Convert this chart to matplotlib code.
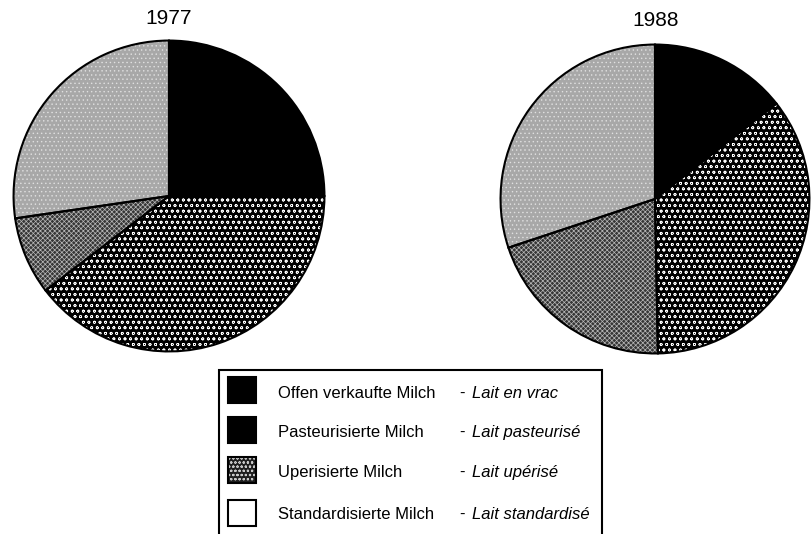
import matplotlib.pyplot as plt
from matplotlib.patches import Rectangle

plt.rcParams['font.family'] = ['Liberation Sans', 'DejaVu Sans']
plt.rcParams['hatch.linewidth'] = 0.5

# data (shares in %)
years = ["1977", "1988"]
labels_de = ["Offen verkaufte Milch", "Pasteurisierte Milch",
             "Uperisierte Milch", "Standardisierte Milch"]
labels_fr = ["Lait en vrac", "Lait pasteurisé", "Lait upérisé", "Lait standardisé"]
shares_1977 = [25.0, 39.6, 8.1, 27.3]
shares_1988 = [14.4, 35.3, 20.2, 30.1]

# wedge styles
face = ["black", "black", "#363636", "#a8a8a8"]
hatch = [None, "ooo", "xxxxxxx", "...."]
hatch_col = ["black", "white", "#b8b8b8", "#e0e0e0"]

W, H = 811, 534
fig = plt.figure(figsize=(W / 100, H / 100), dpi=100)


def px_axes(x0, y0, w, h):
    return fig.add_axes([x0 / W, 1 - (y0 + h) / H, w / W, h / H])


def draw_pie(ax, shares):
    wedges, _ = ax.pie(shares, startangle=90, counterclock=False, radius=1)
    for w, fc, ht, hc in zip(wedges, face, hatch, hatch_col):
        w.set_facecolor(fc)
        w.set_edgecolor(hc)
        w.set_linewidth(0)
        if ht:
            w.set_hatch(ht)
    # outlines on top
    ax.pie(shares, startangle=90, counterclock=False, radius=1,
           wedgeprops=dict(facecolor="none", edgecolor="black", linewidth=1.5))
    ax.set_xlim(-1.01, 1.01)
    ax.set_ylim(-1.01, 1.01)
    ax.axis("off")


ax1 = px_axes(12, 39, 314, 314)
draw_pie(ax1, shares_1977)
ax2 = px_axes(499, 43, 312, 312)
draw_pie(ax2, shares_1988)

fig.text(169 / W, 1 - 18 / H, years[0], ha="center", va="center", fontsize=15)
fig.text(656 / W, 1 - 20 / H, years[1], ha="center", va="center", fontsize=15)

# legend box
fig.patches.append(Rectangle((219 / W, 1 - 545 / H), 383 / W, 175 / H,
                             transform=fig.transFigure, fill=False,
                             edgecolor="black", linewidth=1.5))

leg_face = ["black", "black", "#1e1e1e", "white"]
leg_hatch = [None, None, "oooo", None]
leg_hcol = ["black", "black", "#c8c8c8", "black"]
box_cy = [390, 430, 470, 513]
text_base = [398, 437, 477, 519]
for i in range(4):
    r = Rectangle((228 / W, 1 - (box_cy[i] + 13) / H), 28 / W, 26 / H,
                  transform=fig.transFigure, facecolor=leg_face[i],
                  edgecolor=leg_hcol[i], linewidth=0, hatch=leg_hatch[i])
    fig.patches.append(r)
    fig.patches.append(Rectangle((228 / W, 1 - (box_cy[i] + 13) / H), 28 / W, 26 / H,
                                 transform=fig.transFigure, fill=False,
                                 edgecolor="black", linewidth=1.5))
    yb = 1 - text_base[i] / H
    fig.text(278 / W, yb, labels_de[i], ha="left", va="baseline", fontsize=12)
    fig.text(459 / W, yb, "-", ha="left", va="baseline", fontsize=12)
    fig.text(472 / W, yb, labels_fr[i], ha="left", va="baseline", fontsize=12,
             style="italic")

fig.savefig("out.png", dpi=100)
